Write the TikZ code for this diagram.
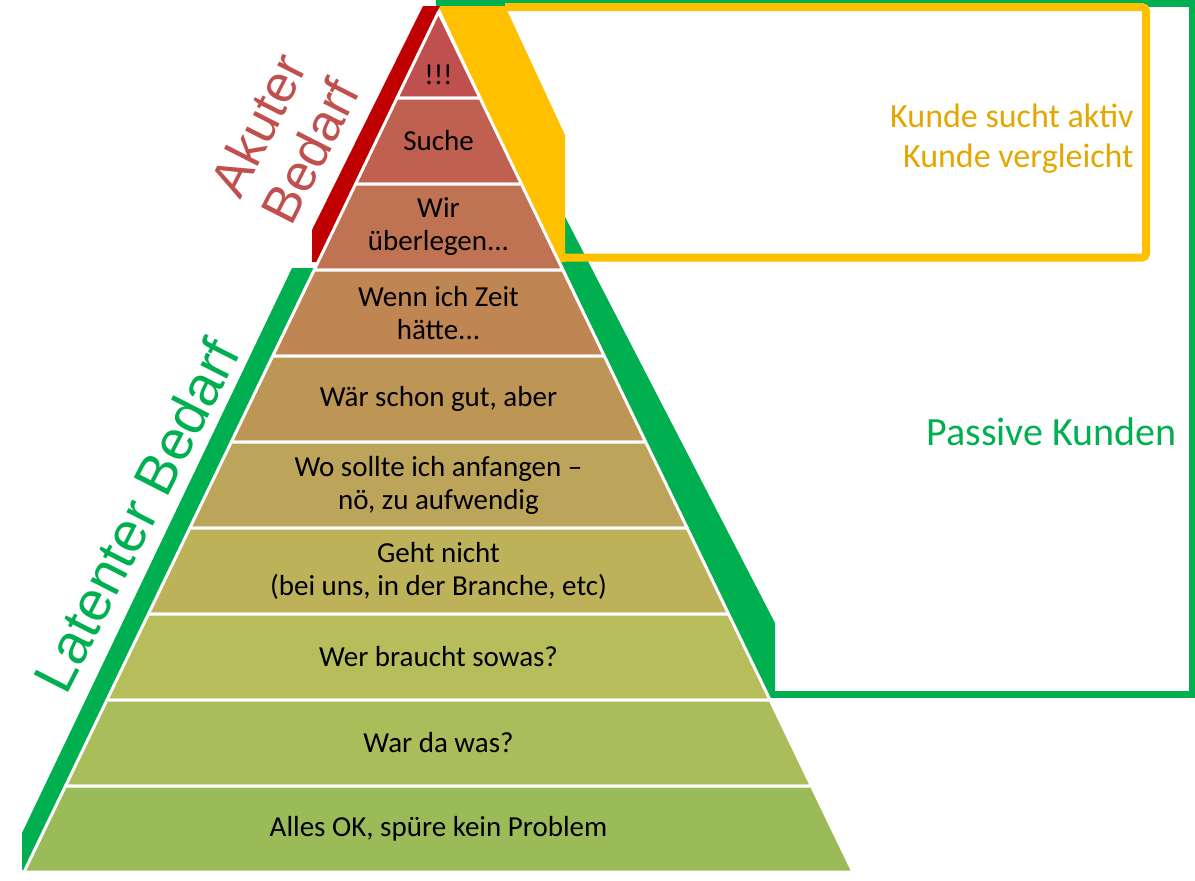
\documentclass[tikz,border=0pt]{standalone}
\usepackage{fontspec}
\setmainfont{Carlito}
\newfontfamily\arialfont{Liberation Sans}
\definecolor{pyrred}{HTML}{C0504D}
\definecolor{barred}{HTML}{C00000}
\definecolor{bargreen}{HTML}{00B050}
\definecolor{baryellow}{HTML}{FFC000}
\definecolor{goldtext}{HTML}{E2A700}
\definecolor{tierA}{HTML}{C0504D}
\definecolor{tierB}{HTML}{C06050}
\definecolor{tierC}{HTML}{C07352}
\definecolor{tierD}{HTML}{BF8552}
\definecolor{tierE}{HTML}{BD9555}
\definecolor{tierF}{HTML}{BCA55A}
\definecolor{tierG}{HTML}{BDB15A}
\definecolor{tierH}{HTML}{B7BD5A}
\definecolor{tierI}{HTML}{ABBC5A}
\definecolor{tierJ}{HTML}{9BBB59}
\tikzset{
    tier/.style={draw=white, line width=1.5pt, line join=round},
    tiertext/.style={align=center, font=\fontsize{14.5}{16.5}\selectfont},
    sidelabel/.style={align=center, rotate=63, inner sep=0pt},
    frame/.style={line width=3.5pt},
    boxtext/.style={align=right, inner sep=0pt, anchor=east}
}

\begin{document}
\begin{tikzpicture}[x=0.5pt, y=-0.5pt]
\useasboundingbox (0,0) rectangle (1195,880);

% ── Green frame: passive customers ───────────────────────────────────────────
\draw[frame, draw=bargreen] (436,3.5) -- (1192,3.5) -- (1192,694.5) -- (772,694.5);
\fill[bargreen] (438.5,4) -- (455,4) -- (775,623) -- (775,698) -- (768,698) -- cycle;

% ── Yellow frame: active customers ───────────────────────────────────────────
\draw[line width=4pt, draw=baryellow, rounded corners=2pt]
    (505,7) -- (1146,7) -- (1146,257.5) -- (562,257.5);
\fill[baryellow] (438.5,6) -- (505,6) -- (565,135) -- (565,262) -- (558.5,262) -- cycle;

% ── Side bars ────────────────────────────────────────────────────────────────
\fill[barred] (312,262) -- (312,230) -- (423,6) -- (440,6) -- (317,262) -- cycle;
\fill[bargreen] (22,870) -- (22,833) -- (292,268) -- (314,268) -- (25,870) -- cycle;

% ── Pyramid tiers ────────────────────────────────────────────────────────────
\path[tier, fill=tierA] (438.5,12) -- (480,98) -- (397,98) -- cycle;
\path[tier, fill=tierB] (397,98) -- (480,98) -- (521.4,184) -- (355.6,184) -- cycle;
\path[tier, fill=tierC] (355.6,184) -- (521.4,184) -- (562.8,270) -- (314.2,270) -- cycle;
\path[tier, fill=tierD] (314.2,270) -- (562.8,270) -- (604.3,356) -- (272.7,356) -- cycle;
\path[tier, fill=tierE] (272.7,356) -- (604.3,356) -- (645.7,442) -- (231.3,442) -- cycle;
\path[tier, fill=tierF] (231.3,442) -- (645.7,442) -- (687.2,528) -- (189.8,528) -- cycle;
\path[tier, fill=tierG] (189.8,528) -- (687.2,528) -- (728.6,614) -- (148.4,614) -- cycle;
\path[tier, fill=tierH] (148.4,614) -- (728.6,614) -- (770.1,700) -- (106.9,700) -- cycle;
\path[tier, fill=tierI] (106.9,700) -- (770.1,700) -- (811.5,786) -- (65.5,786) -- cycle;
\path[tier, fill=tierJ] (65.5,786) -- (811.5,786) -- (853,872) -- (24,872) -- cycle;

% ── Tier texts ───────────────────────────────────────────────────────────────
\node[tiertext] (bang) at (438.5,75) {!!!};
\node[tiertext] (suche) at (438.5,141) {Suche};
\node[tiertext] (ueberlegen) at (438.5,227) {Wir\\überlegen...};
\node[tiertext] (zeit) at (438.5,313) {Wenn ich Zeit\\hätte...};
\node[tiertext] (gut) at (438.5,399) {Wär schon gut, aber};
\node[tiertext] (anfangen) at (438.5,485) {Wo sollte ich anfangen --\\nö, zu aufwendig};
\node[tiertext] (branche) at (438.5,571) {Geht nicht\\(bei uns, in der Branche, etc)};
\node[tiertext] (sowas) at (438.5,657) {Wer braucht sowas?};
\node[tiertext] (wasda) at (438.5,743) {War da was?};
\node[tiertext] (allesok) at (438.5,829) {Alles OK, spüre kein Problem};

% ── Side labels ──────────────────────────────────────────────────────────────
\node[sidelabel, text=pyrred, font=\arialfont\fontsize{26}{29}\selectfont]
    (akut) at (284,138) {Akuter\\Bedarf};
\node[sidelabel, text=bargreen, font=\arialfont\fontsize{28}{32}\selectfont]
    (latent) at (136,515) {Latenter Bedarf};

% ── Frame texts ──────────────────────────────────────────────────────────────
\node[boxtext, text=goldtext, font=\fontsize{17}{20}\selectfont]
    (aktiv) at (1134,139) {Kunde sucht aktiv\\Kunde vergleicht};
\node[boxtext, text=bargreen, font=\fontsize{20}{24}\selectfont]
    (passiv) at (1177,432) {Passive Kunden};

\end{tikzpicture}
\end{document}
